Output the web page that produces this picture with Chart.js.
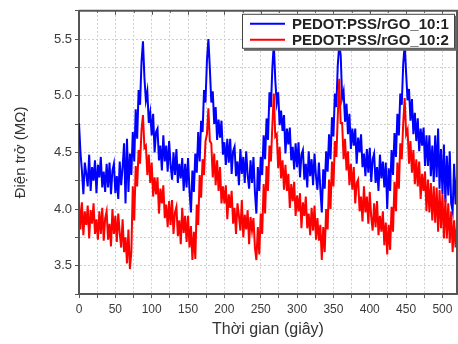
<!DOCTYPE html>
<html>
<head>
<meta charset="utf-8">
<script src="https://cdn.jsdelivr.net/npm/chart.js@4"></script>
<style>
    html, body { margin: 0; padding: 0; background: #fff; }
</style>
</head>
<body>
<canvas id="chart-1" width="458" height="344"></canvas>
<script>
// time (s)
var time = [
    0, 2, 4, 6, 8, 10, 12, 14, 16, 18,
    20, 22, 24, 26, 28, 30, 32, 34, 36, 38,
    40, 42, 44, 46, 48, 50, 52, 54, 56, 58,
    60, 62, 64, 66, 68, 70, 72, 74, 76, 78,
    80, 82, 84, 86, 88, 90, 92, 94, 96, 98,
    100, 102, 104, 106, 108, 110, 112, 114, 116, 118,
    120, 122, 124, 126, 128, 130, 132, 134, 136, 138,
    140, 142, 144, 146, 148, 150, 152, 154, 156, 158,
    160, 162, 164, 166, 168, 170, 172, 174, 176, 178,
    180, 182, 184, 186, 188, 190, 192, 194, 196, 198,
    200, 202, 204, 206, 208, 210, 212, 214, 216, 218,
    220, 222, 224, 226, 228, 230, 232, 234, 236, 238,
    240, 242, 244, 246, 248, 250, 252, 254, 256, 258,
    260, 262, 264, 266, 268, 270, 272, 274, 276, 278,
    280, 282, 284, 286, 288, 290, 292, 294, 296, 298,
    300, 302, 304, 306, 308, 310, 312, 314, 316, 318,
    320, 322, 324, 326, 328, 330, 332, 334, 336, 338,
    340, 342, 344, 346, 348, 350, 352, 354, 356, 358,
    360, 362, 364, 366, 368, 370, 372, 374, 376, 378,
    380, 382, 384, 386, 388, 390, 392, 394, 396, 398,
    400, 402, 404, 406, 408, 410, 412, 414, 416, 418,
    420, 422, 424, 426, 428, 430, 432, 434, 436, 438,
    440, 442, 444, 446, 448, 450, 452, 454, 456, 458,
    460, 462, 464, 466, 468, 470, 472, 474, 476, 478,
    480, 482, 484, 486, 488, 490, 492, 494, 496, 498,
    500, 502, 504, 506, 508, 510, 512, 514, 516, 518,
    520
];

// resistance (MOhm), PEDOT:PSS/rGO 10:1
var rGO_10_1 = [
    4.76, 4.50, 4.34, 4.13, 4.41, 4.31, 4.20, 4.48, 4.16, 4.37,
    4.25, 4.43, 4.14, 4.39, 4.28, 4.46, 4.19, 4.33, 4.15, 4.40,
    4.19, 4.41, 4.13, 4.34, 4.40, 4.14, 4.29, 4.09, 4.42, 4.21,
    4.37, 4.58, 4.05, 4.62, 4.15, 4.49, 4.30, 4.68, 4.42, 4.88,
    4.62, 5.05, 4.92, 5.30, 5.48, 5.16, 4.96, 5.04, 4.76, 4.85,
    4.65, 4.84, 4.50, 4.68, 4.71, 4.43, 4.56, 4.34, 4.65, 4.42,
    4.56, 4.33, 4.60, 4.39, 4.26, 4.50, 4.30, 4.53, 4.23, 4.40,
    4.27, 4.45, 4.16, 4.40, 4.19, 4.45, 4.16, 3.97, 4.34, 4.15,
    4.49, 4.32, 4.68, 4.42, 4.78, 4.68, 5.05, 4.94, 5.31, 5.50,
    5.24, 4.94, 5.04, 4.75, 4.90, 4.61, 4.79, 4.63, 4.78, 4.48,
    4.59, 4.39, 4.62, 4.41, 4.62, 4.31, 4.51, 4.55, 4.29, 4.42,
    4.21, 4.53, 4.31, 4.46, 4.23, 4.51, 4.30, 4.18, 4.43, 4.23,
    4.46, 4.15, 3.96, 4.37, 4.16, 4.46, 4.30, 4.65, 4.44, 4.80,
    4.61, 5.03, 4.90, 5.25, 5.46, 5.14, 4.94, 5.03, 4.74, 4.87,
    4.69, 4.83, 4.49, 4.71, 4.57, 4.72, 4.43, 4.55, 4.35, 4.58,
    4.37, 4.59, 4.28, 4.48, 4.52, 4.26, 4.40, 4.19, 4.51, 4.29,
    4.44, 4.21, 4.49, 4.29, 4.17, 4.41, 4.18, 3.97, 4.35, 4.18,
    4.51, 4.33, 4.66, 4.44, 4.81, 4.64, 5.02, 4.90, 5.27, 5.45,
    5.36, 4.98, 5.04, 4.77, 4.93, 4.66, 4.84, 4.53, 4.71, 4.56,
    4.71, 4.40, 4.63, 4.50, 4.66, 4.37, 4.49, 4.29, 4.53, 4.32,
    4.54, 4.24, 4.44, 4.49, 4.23, 4.37, 4.16, 4.48, 4.27, 4.42,
    4.19, 4.41, 4.00, 4.36, 4.16, 4.52, 4.30, 4.67, 4.46, 4.84,
    4.65, 5.02, 4.92, 5.28, 5.45, 5.20, 4.96, 5.06, 4.78, 4.97,
    4.66, 4.85, 4.60, 4.80, 4.51, 4.71, 4.56, 4.72, 4.38, 4.65,
    4.38, 4.65, 4.29, 4.56, 4.24, 4.65, 4.28, 4.71, 4.18, 4.53,
    4.13, 4.57, 4.06, 4.47, 4.12, 4.51, 4.05, 3.98, 4.40, 4.04,
    4.30
];

// resistance (MOhm), PEDOT:PSS/rGO 10:2
var rGO_10_2 = [
    4.06, 3.82, 4.06, 3.77, 3.98, 3.86, 4.03, 3.74, 3.99, 3.87,
    4.05, 3.78, 3.91, 3.73, 3.98, 3.78, 4.01, 3.72, 3.92, 3.98,
    3.73, 3.87, 3.67, 4.00, 3.78, 3.94, 3.71, 3.96, 3.79, 3.66,
    3.91, 3.62, 3.75, 3.52, 3.82, 3.47, 3.62, 4.20, 3.90, 4.38,
    4.20, 4.52, 4.40, 4.70, 4.83, 4.54, 4.56, 4.30, 4.48, 4.23,
    4.41, 4.11, 4.28, 4.13, 4.28, 3.96, 4.18, 4.05, 4.21, 3.92,
    4.04, 3.84, 4.07, 3.86, 4.08, 3.78, 3.97, 4.02, 3.76, 3.90,
    3.69, 4.01, 3.79, 3.94, 3.71, 3.94, 3.66, 3.85, 3.55, 3.80,
    3.56, 4.04, 3.86, 4.30, 4.10, 4.44, 4.30, 4.60, 4.66, 4.89,
    4.60, 4.58, 4.28, 4.49, 4.21, 4.43, 4.16, 4.37, 4.05, 4.20,
    4.05, 4.21, 3.91, 4.13, 4.01, 4.16, 3.87, 4.01, 3.78, 4.05,
    3.94, 3.81, 4.08, 3.75, 3.95, 3.82, 3.99, 3.69, 3.93, 3.81,
    3.92, 3.66, 3.55, 3.84, 3.60, 3.96, 3.78, 4.22, 3.96, 4.38,
    4.16, 4.56, 4.42, 4.74, 5.02, 4.64, 4.66, 4.36, 4.55, 4.27,
    4.43, 4.17, 4.39, 4.16, 4.31, 4.01, 4.22, 4.07, 4.24, 3.94,
    4.12, 3.98, 4.14, 3.83, 4.06, 3.94, 4.11, 3.83, 3.96, 3.77,
    4.01, 3.81, 4.03, 3.73, 3.92, 3.72, 3.86, 3.55, 3.84, 3.62,
    4.00, 3.82, 4.26, 4.00, 4.42, 4.20, 4.60, 4.46, 4.82, 5.15,
    4.76, 4.76, 4.44, 4.62, 4.34, 4.51, 4.21, 4.40, 4.17, 4.37,
    4.05, 4.23, 4.26, 3.98, 4.11, 3.89, 4.20, 3.97, 4.11, 3.87,
    4.15, 3.93, 3.81, 4.05, 3.84, 4.07, 3.77, 3.94, 3.80, 3.98,
    3.68, 3.88, 3.60, 3.86, 3.64, 4.02, 3.80, 4.24, 3.98, 4.41,
    4.18, 4.58, 4.44, 4.76, 4.98, 4.66, 4.70, 4.40, 4.60, 4.32,
    4.52, 4.22, 4.44, 4.20, 4.42, 4.09, 4.31, 4.16, 4.33, 3.98,
    4.26, 3.97, 4.23, 3.90, 4.20, 3.88, 4.19, 3.80, 4.17, 3.83,
    4.13, 3.74, 4.09, 3.74, 4.05, 3.70, 3.98, 3.62, 3.90, 3.66,
    3.86
];

var seriesNames = ['PEDOT:PSS/rGO_10:1', 'PEDOT:PSS/rGO_10:2'];
var seriesColors = ['#0000ff', '#ff0000'];
var xTickLabels = [0, 50, 100, 150, 200, 250, 300, 350, 400, 450, 500];
var yTickLabels = [3.5, 4.0, 4.5, 5.0, 5.5];

var FONT = '"Liberation Sans", Arial, sans-serif';
var AXIS = '#555';

// frame on top/right with inward ticks, like the origin plot
var framePlugin = {
    id: 'frame',
    afterDraw: function (chart) {
        var ctx = chart.ctx, a = chart.chartArea, xs = chart.scales.x;
        ctx.save();
        ctx.strokeStyle = AXIS;
        ctx.lineWidth = 2;
        ctx.beginPath();
        ctx.moveTo(a.left, a.top); ctx.lineTo(a.right, a.top); ctx.lineTo(a.right, a.bottom);
        ctx.stroke();
        ctx.lineWidth = 1;
        ctx.beginPath();
        xs.ticks.forEach(function (t) {
            var px = Math.round(xs.getPixelForValue(t.value)) + 0.5;
            var len = xTickLabels.indexOf(t.value) >= 0 ? 4 : 2;
            ctx.moveTo(px, a.top); ctx.lineTo(px, a.top + len);
        });
        ctx.stroke();
        ctx.restore();
    }
};

// boxed legend inside the plot, top right
var legendPlugin = {
    id: 'boxLegend',
    afterDraw: function (chart) {
        var ctx = chart.ctx, a = chart.chartArea;
        var w = 213, h = 35, x = a.right - 2 - w, y = a.top + 3;
        ctx.save();
        ctx.fillStyle = '#666';
        ctx.fillRect(x + 2, y + 2, w, h);
        ctx.fillStyle = '#fff';
        ctx.fillRect(x, y, w, h);
        ctx.strokeStyle = '#444';
        ctx.lineWidth = 1;
        ctx.strokeRect(x + 0.5, y + 0.5, w - 1, h - 1);
        ctx.font = 'bold 15px ' + FONT;
        ctx.textBaseline = 'middle';
        chart.data.datasets.forEach(function (ds, i) {
            var ly = y + 10 + i * 16;
            ctx.strokeStyle = ds.borderColor;
            ctx.lineWidth = 2;
            ctx.beginPath();
            ctx.moveTo(x + 8, ly); ctx.lineTo(x + 43, ly);
            ctx.stroke();
            ctx.fillStyle = '#222';
            ctx.fillText(ds.label, x + 50, ly + 1);
        });
        ctx.restore();
    }
};

new Chart(document.getElementById('chart-1'), {
    type: 'line',
    data: {
        labels: time,
        datasets: [
            { label: seriesNames[0], data: rGO_10_1, borderColor: seriesColors[0], borderWidth: 2, order: 1 },
            { label: seriesNames[1], data: rGO_10_2, borderColor: seriesColors[1], borderWidth: 2, order: 0 }
        ]
    },
    options: {
        responsive: false,
        animation: false,
        events: [],
        layout: { padding: { left: 0, top: 6, right: 1, bottom: 0 } },
        elements: {
            point: { radius: 0 },
            line: { tension: 0, fill: false, borderJoinStyle: 'miter' }
        },
        plugins: {
            legend: { display: false },
            tooltip: { enabled: false }
        },
        scales: {
            x: {
                type: 'linear',
                min: 0,
                max: 520,
                afterFit: function (s) { s.height = 50; },
                ticks: {
                    stepSize: 25,
                    includeBounds: false,
                    autoSkip: false,
                    maxRotation: 0,
                    padding: 4,
                    color: '#3a3a3a',
                    font: { family: FONT, size: 12 },
                    callback: function (v) { return xTickLabels.indexOf(v) >= 0 ? String(v) : ''; }
                },
                grid: { color: '#cfcfcf', tickColor: AXIS, tickLength: 4 },
                border: { color: AXIS, width: 2, dash: [2, 2] },
                title: {
                    display: true,
                    text: 'Thời gian (giây)',
                    color: '#333',
                    font: { family: FONT, size: 16 },
                    padding: { top: 0, bottom: 5 }
                }
            },
            y: {
                min: 3.25,
                max: 5.75,
                afterFit: function (s) { s.width = 79; },
                ticks: {
                    stepSize: 0.25,
                    autoSkip: false,
                    padding: 3,
                    color: '#3a3a3a',
                    font: { family: FONT, size: 13 },
                    callback: function (v) {
                        for (var i = 0; i < yTickLabels.length; i++) {
                            if (Math.abs(yTickLabels[i] - v) < 1e-6) return yTickLabels[i].toFixed(1);
                        }
                        return '';
                    }
                },
                grid: { color: '#cfcfcf', tickColor: AXIS, tickLength: 4 },
                border: { color: AXIS, width: 2, dash: [2, 2] },
                title: {
                    display: true,
                    text: 'Điện trở (MΩ)',
                    color: '#333',
                    font: { family: FONT, size: 15 },
                    padding: { top: 12, bottom: 0 }
                }
            }
        }
    },
    plugins: [framePlugin, legendPlugin]
});
</script>
</body>
</html>
